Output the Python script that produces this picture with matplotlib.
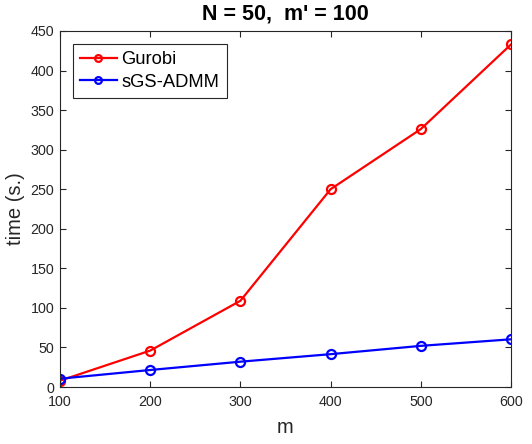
import matplotlib
matplotlib.use("Agg")
import matplotlib.pyplot as plt

m = [100, 200, 300, 400, 500, 600]
gurobi = [8, 46, 109, 250, 326, 433]
sgs_admm = [10.5, 21.5, 32, 41.5, 52, 60.3]
xticks = [100, 200, 300, 400, 500, 600]
yticks = [0, 50, 100, 150, 200, 250, 300, 350, 400, 450]

plt.rcParams['font.family'] = ['Liberation Sans', 'DejaVu Sans']
fig = plt.figure(figsize=(5.32, 4.44), dpi=100)
ax = fig.add_axes([60/532, 57/444, 451/532, 356/444])

ax.plot(m, gurobi, color='red', marker='o', markersize=6.5, markerfacecolor='none',
        markeredgewidth=1.6, linewidth=1.6, label='Gurobi')
ax.plot(m, sgs_admm, color='blue', marker='o', markersize=6.5, markerfacecolor='none',
        markeredgewidth=1.6, linewidth=1.6, label='sGS-ADMM')

ax.set_xlim(100, 600)
ax.set_ylim(0, 450)
ax.set_xticks(xticks)
ax.set_yticks(yticks)
ax.tick_params(direction='in', top=True, right=True, labelsize=10.3, colors='0.15',
               length=4, width=0.8)
ax.tick_params(axis='x', pad=6)
ax.tick_params(axis='y', pad=4)
for s in ax.spines.values():
    s.set_color('0.15')
    s.set_linewidth(0.8)
ax.set_xlabel('m', fontsize=14.5, color='0.15', labelpad=6)
ax.set_ylabel('time (s.)', fontsize=14.5, color='0.15', labelpad=4)
ax.set_title("N = 50,  m' = 100", fontsize=15.5, fontweight='bold', pad=8)
leg = ax.legend(loc='upper left', fontsize=13.2, fancybox=False, edgecolor='0.15',
                handlelength=2.0, handletextpad=0.25, borderpad=0.4, labelspacing=0.3,
                borderaxespad=0.7, framealpha=1, markerscale=0.75)
leg.get_frame().set_linewidth(0.8)

fig.savefig('out.png', dpi=100)
